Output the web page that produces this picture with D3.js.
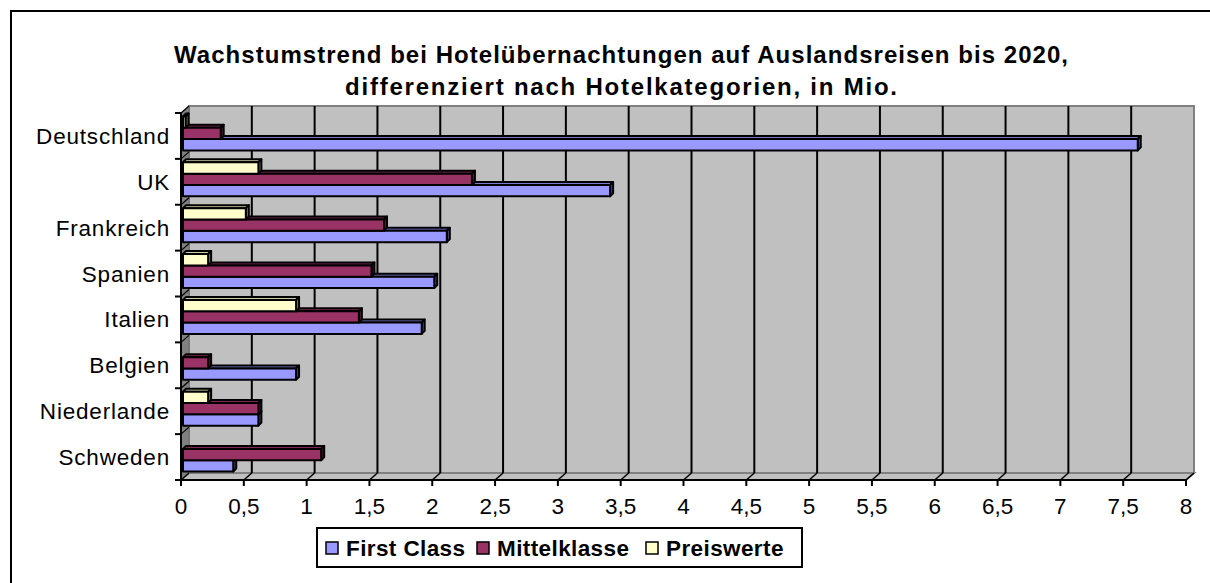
<!DOCTYPE html>
<html><head><meta charset="utf-8">
<script src="https://cdn.jsdelivr.net/npm/d3@7"></script>
<style>
html,body{margin:0;padding:0;background:#fff;overflow:hidden}
svg{display:block;font-family:Arial,"Liberation Sans",sans-serif}
</style></head>
<body>
<svg id="c" width="1210" height="583"></svg>
<script>
const categories = ["Deutschland","UK","Frankreich","Spanien","Italien","Belgien","Niederlande","Schweden"];
const seriesNames = ["Preiswerte","Mittelklasse","First Class"];
const firstClass  = [7.6, 3.4, 2.1, 2.0, 1.9, 0.9, 0.6, 0.4];
const mittelklasse = [0.3, 2.3, 1.6, 1.5, 1.4, 0.2, 0.6, 1.1];
const preiswerte  = [0.02, 0.6, 0.5, 0.2, 0.9, 0, 0.2, 0];
const xTicks = [0,0.5,1,1.5,2,2.5,3,3.5,4,4.5,5,5.5,6,6.5,7,7.5,8];
const titleLines = ["Wachstumstrend bei Hotelübernachtungen auf Auslandsreisen bis 2020,","differenziert nach Hotelkategorien, in Mio."];
const legendOrder = ["First Class","Mittelklasse","Preiswerte"];

const values = {"First Class": firstClass, "Mittelklasse": mittelklasse, "Preiswerte": preiswerte};
const colors = {
  "First Class": {front:"#9999FF", top:"#7A7ACC", side:"#4D4D80"},
  "Mittelklasse": {front:"#993366", top:"#7A2952", side:"#4D1A33"},
  "Preiswerte": {front:"#FFFFCC", top:"#CCCCA3", side:"#808066"}
};

const svg = d3.select("#c");
const DX = 8, DY = 7;     // wall depth
const BX = 3, BY = 3;     // bar depth

const x = d3.scaleLinear().domain([0,8]).range([181,1186]);
const y = d3.scaleBand().domain(categories).range([113,480]).padding(0);
const ys = d3.scaleBand().domain(seriesNames).range([y.bandwidth()*0.075, y.bandwidth()*0.815]).padding(0);

const top0 = y.range()[0], bot0 = y.range()[1];
const xl = x.range()[0], xr = x.range()[1];

// outer border
svg.append("rect").attr("x",11).attr("y",11).attr("width",1220).attr("height",620)
  .attr("fill","none").attr("stroke","#000").attr("stroke-width",2);

// title
svg.selectAll("text.title").data(titleLines).join("text").attr("class","title")
  .attr("x",621).attr("y",(d,i)=>63+i*32).attr("text-anchor","middle")
  .attr("font-size",24).attr("font-weight","bold")
  .attr("textLength",(d,i)=>i===0?894:552).attr("lengthAdjust","spacing")
  .text(d=>d);

// back wall
svg.append("rect").attr("x",xl+DX).attr("y",top0-DY).attr("width",xr-xl).attr("height",bot0-top0)
  .attr("fill","#C0C0C0").attr("stroke","#808080").attr("stroke-width",2);
// side wall
svg.append("polygon").attr("points",[[xl,top0],[xl+DX,top0-DY],[xl+DX,bot0-DY],[xl,bot0]].join(" "))
  .attr("fill","#808080").attr("stroke","#6a6a6a").attr("stroke-width",1);
// floor
svg.append("polygon").attr("points",[[xl,bot0],[xl+DX,bot0-DY],[xr+DX,bot0-DY],[xr,bot0]].join(" "))
  .attr("fill","#C0C0C0").attr("stroke","#808080").attr("stroke-width",2);

// gridlines on back wall + floor
svg.selectAll("line.grid").data(xTicks.slice(1,-1)).join("line").attr("class","grid")
  .attr("x1",d=>x(d)+DX).attr("x2",d=>x(d)+DX).attr("y1",top0-DY).attr("y2",bot0-DY)
  .attr("stroke","#000").attr("stroke-width",2);
svg.selectAll("line.fgrid").data(xTicks.slice(1)).join("line").attr("class","fgrid")
  .attr("x1",d=>x(d)).attr("x2",d=>x(d)+DX).attr("y1",bot0).attr("y2",bot0-DY)
  .attr("stroke","#000").attr("stroke-width",1.5);
// side wall category lines
const bounds = categories.map(c=>y(c)).concat([bot0]);
svg.selectAll("line.sgrid").data(bounds).join("line").attr("class","sgrid")
  .attr("x1",xl).attr("x2",xl+DX).attr("y1",d=>d).attr("y2",d=>d-DY)
  .attr("stroke","#000").attr("stroke-width",1.2);

// bars: draw bottom to top
const bars = [];
categories.slice().reverse().forEach(c=>{
  seriesNames.slice().reverse().forEach(s=>{
    const v = values[s][categories.indexOf(c)];
    if (v>0) bars.push({c,s,v});
  });
});
const g = svg.append("g");
bars.forEach(b=>{
  const x0 = x(0)+2, x1 = x(b.v)+2;
  const y0 = y(b.c)+ys(b.s), h = ys.bandwidth();
  const col = colors[b.s];
  const gb = g.append("g").attr("stroke","#000").attr("stroke-width",2).attr("stroke-linejoin","round");
  gb.append("polygon").attr("points",[[x0,y0],[x0+BX,y0-BY],[x1+BX,y0-BY],[x1,y0]].join(" ")).attr("fill",col.top);
  gb.append("polygon").attr("points",[[x1,y0],[x1+BX,y0-BY],[x1+BX,y0+h-BY],[x1,y0+h]].join(" ")).attr("fill",col.side);
  gb.append("rect").attr("x",x0).attr("y",y0).attr("width",x1-x0).attr("height",h).attr("fill",col.front);
});

// axes lines
svg.append("line").attr("x1",xl).attr("x2",xr).attr("y1",bot0).attr("y2",bot0).attr("stroke","#000").attr("stroke-width",2);
svg.append("line").attr("x1",xl).attr("x2",xl).attr("y1",top0).attr("y2",bot0).attr("stroke","#000").attr("stroke-width",2);
// x ticks
svg.selectAll("line.xt").data(xTicks).join("line").attr("class","xt")
  .attr("x1",d=>x(d)).attr("x2",d=>x(d)).attr("y1",bot0).attr("y2",bot0+6).attr("stroke","#000").attr("stroke-width",2);
svg.selectAll("text.xl").data(xTicks).join("text").attr("class","xl")
  .attr("x",d=>x(d)).attr("y",514).attr("text-anchor","middle").attr("font-size",22.5)
  .text(d=>String(d).replace(".",","));
// y ticks
svg.selectAll("line.yt").data(bounds).join("line").attr("class","yt")
  .attr("x1",xl-6).attr("x2",xl).attr("y1",d=>d).attr("y2",d=>d).attr("stroke","#000").attr("stroke-width",2);
svg.selectAll("text.yl").data(categories).join("text").attr("class","yl")
  .attr("x",170).attr("y",d=>y(d)+y.bandwidth()/2+8).attr("text-anchor","end").attr("font-size",22.5)
  .attr("letter-spacing",0.8)
  .text(d=>d);

// legend
const lg = svg.append("g");
lg.append("rect").attr("x",317).attr("y",528).attr("width",485).attr("height",39)
  .attr("fill","#fff").attr("stroke","#000").attr("stroke-width",2);
const legXs = {"First Class":326,"Mittelklasse":477,"Preiswerte":646};
legendOrder.forEach(s=>{
  const lx = legXs[s];
  lg.append("rect").attr("x",lx).attr("y",542).attr("width",12).attr("height",12)
    .attr("fill",colors[s].front).attr("stroke","#000").attr("stroke-width",1.5);
  lg.append("text").attr("x",lx+20).attr("y",556).attr("font-size",22.5).attr("font-weight","bold")
    .attr("letter-spacing",0.4).text(s);
});
</script>
</body></html>
